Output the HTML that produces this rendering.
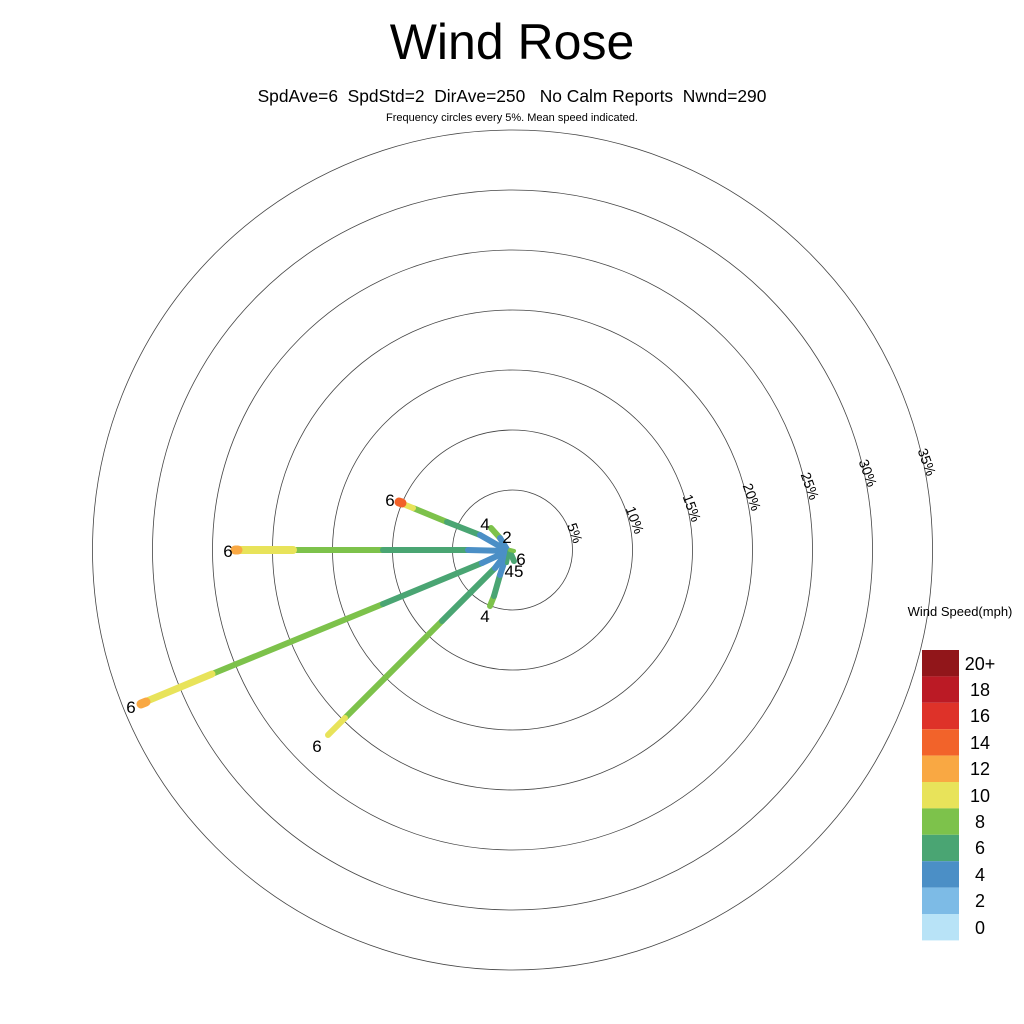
<!DOCTYPE html>
<html><head><meta charset="utf-8"><style>
html,body{margin:0;padding:0;background:#fff;width:1024px;height:1024px;overflow:hidden}
svg{display:block}
text{font-family:"Liberation Sans",sans-serif;fill:#000}
</style></head><body>
<svg width="1024" height="1024" viewBox="0 0 1024 1024">
<text x="512" y="59" font-size="50" text-anchor="middle">Wind Rose</text>
<text x="512" y="102" font-size="17.4" text-anchor="middle" xml:space="preserve" style="white-space:pre">SpdAve=6  SpdStd=2  DirAve=250   No Calm Reports  Nwnd=290</text>
<text x="512" y="121" font-size="11" text-anchor="middle">Frequency circles every 5%. Mean speed indicated.</text>
<g fill="none" stroke="#444" stroke-width="0.8">
<circle cx="512.5" cy="550" r="60"/><circle cx="512.5" cy="550" r="120"/><circle cx="512.5" cy="550" r="180"/>
<circle cx="512.5" cy="550" r="240"/><circle cx="512.5" cy="550" r="300"/><circle cx="512.5" cy="550" r="360"/><circle cx="512.5" cy="550" r="420"/>
</g>
<g font-size="14" text-anchor="middle">
<text transform="translate(575,533) rotate(70)" dy="5">5%</text>
<text transform="translate(635,520) rotate(70)" dy="5">10%</text>
<text transform="translate(692,508) rotate(70)" dy="5">15%</text>
<text transform="translate(752,497) rotate(70)" dy="5">20%</text>
<text transform="translate(810,486) rotate(70)" dy="5">25%</text>
<text transform="translate(868,473) rotate(70)" dy="5">30%</text>
<text transform="translate(927,462) rotate(70)" dy="5">35%</text>
</g>
<g stroke-width="6" stroke-linecap="round" fill="none">
<line x1="447" y1="522" x2="413" y2="508" stroke="#7dc24b"/>
<line x1="413" y1="508" x2="403" y2="504" stroke="#e8e35a"/>
<line x1="402" y1="503" x2="399" y2="502" stroke="#f26128" stroke-width="9"/>
<line x1="480" y1="535" x2="447" y2="522" stroke="#4aa573"/>
<line x1="508" y1="551" x2="480" y2="535" stroke="#4b8fc6"/>
<line x1="383" y1="550" x2="293" y2="550" stroke="#7dc24b"/>
<line x1="293" y1="550" x2="239" y2="550" stroke="#e8e35a" stroke-width="8"/>
<line x1="238" y1="550" x2="235" y2="550" stroke="#f9a843" stroke-width="9"/>
<line x1="468" y1="550" x2="383" y2="550" stroke="#4aa573"/>
<line x1="508" y1="551" x2="468" y2="550" stroke="#4b8fc6"/>
<line x1="383" y1="604" x2="212" y2="674" stroke="#7dc24b"/>
<line x1="212" y1="674" x2="147" y2="701" stroke="#e8e35a" stroke-width="7"/>
<line x1="146" y1="702" x2="141" y2="704" stroke="#f9a843" stroke-width="9"/>
<line x1="482" y1="563" x2="383" y2="604" stroke="#4aa573"/>
<line x1="508" y1="551" x2="482" y2="563" stroke="#4b8fc6"/>
<line x1="442" y1="621" x2="345" y2="718" stroke="#7dc24b"/>
<line x1="345" y1="718" x2="328" y2="735" stroke="#e8e35a"/>
<line x1="495" y1="568" x2="442" y2="621" stroke="#4aa573"/>
<line x1="508" y1="551" x2="495" y2="568" stroke="#4b8fc6"/>
<line x1="500" y1="538" x2="491" y2="528" stroke="#7dc24b"/>
<line x1="508" y1="551" x2="500" y2="538" stroke="#4b8fc6"/>
<line x1="494" y1="596" x2="490" y2="606" stroke="#7dc24b"/>
<line x1="500" y1="575" x2="494" y2="596" stroke="#4aa573"/>
<line x1="508" y1="551" x2="500" y2="575" stroke="#4b8fc6"/>
<line x1="510" y1="552" x2="514" y2="561" stroke="#4aa573"/>
<line x1="509" y1="553" x2="507" y2="563" stroke="#4aa573" stroke-width="4"/>
<line x1="510" y1="550" x2="514" y2="551" stroke="#7dc24b" stroke-width="4"/>
</g>
<g font-size="17" text-anchor="middle">
<text x="390" y="506">6</text>
<text x="228" y="557">6</text>
<text x="131" y="713">6</text>
<text x="317" y="752">6</text>
<text x="485" y="530">4</text>
<text x="507" y="543">2</text>
<text x="521" y="565">6</text>
<text x="514" y="577">45</text>
<text x="485" y="622">4</text>
</g>
<text x="960" y="616" font-size="13" text-anchor="middle">Wind Speed(mph)</text>
<g>
<rect x="922" y="650" width="37" height="26.4" fill="#91161a"/>
<rect x="922" y="676.4" width="37" height="26.4" fill="#bb1a25"/>
<rect x="922" y="702.8" width="37" height="26.4" fill="#de3229"/>
<rect x="922" y="729.2" width="37" height="26.4" fill="#f2632a"/>
<rect x="922" y="755.6" width="37" height="26.4" fill="#f9a843"/>
<rect x="922" y="782" width="37" height="26.4" fill="#e8e35a"/>
<rect x="922" y="808.4" width="37" height="26.4" fill="#7dc24b"/>
<rect x="922" y="834.8" width="37" height="26.4" fill="#4aa573"/>
<rect x="922" y="861.2" width="37" height="26.4" fill="#4b8fc6"/>
<rect x="922" y="887.6" width="37" height="26.4" fill="#7dbbe6"/>
<rect x="922" y="914" width="37" height="26.4" fill="#b8e3f7"/>
</g>
<g font-size="18" text-anchor="middle">
<text x="980" y="670">20+</text>
<text x="980" y="696">18</text>
<text x="980" y="722">16</text>
<text x="980" y="749">14</text>
<text x="980" y="775">12</text>
<text x="980" y="802">10</text>
<text x="980" y="828">8</text>
<text x="980" y="854">6</text>
<text x="980" y="881">4</text>
<text x="980" y="907">2</text>
<text x="980" y="934">0</text>
</g>
</svg>
</body></html>
